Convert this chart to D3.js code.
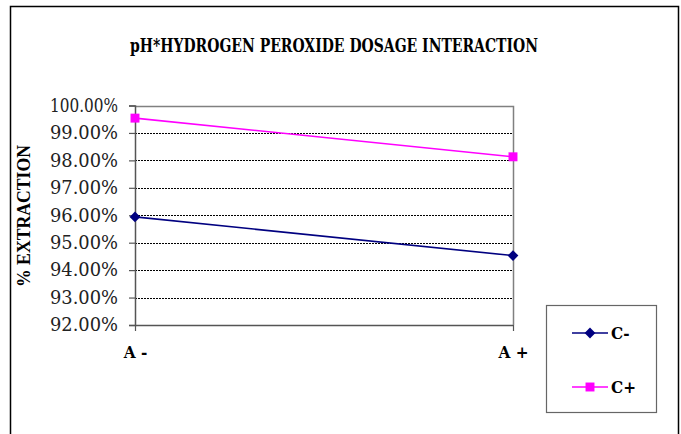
<!DOCTYPE html>
<html>
<head>
<meta charset="utf-8">
<script src="https://cdn.jsdelivr.net/npm/d3@7"></script>
<style>
  html, body { margin: 0; padding: 0; background: #fff; }
  svg { display: block; }
</style>
</head>
<body>
<svg id="chart" width="681" height="434"></svg>
<script>
// Interaction plot data: pH level (A) vs hydrogen peroxide dosage (C)
const categories = ["A -", "A +"];
const seriesNames = ["C-", "C+"];
const cMinus = [95.94, 94.53];
const cPlus = [99.54, 98.13];
const yTicks = [92, 93, 94, 95, 96, 97, 98, 99, 100];
const titleText = "pH*HYDROGEN PEROXIDE DOSAGE INTERACTION";
const yLabel = "% EXTRACTION";

// Diamond drawn as a square turned 45 degrees
const diamond = {
  draw(ctx, size) {
    const r = Math.sqrt(size) / 2 * Math.SQRT2;
    ctx.moveTo(0, -r); ctx.lineTo(r, 0); ctx.lineTo(0, r); ctx.lineTo(-r, 0); ctx.closePath();
  }
};

const series = [
  { name: seriesNames[0], values: cMinus, color: "#000080", symbol: diamond, size: 58 },
  { name: seriesNames[1], values: cPlus, color: "#FF00FF", symbol: d3.symbolSquare, size: 80 }
];

const svg = d3.select("#chart");
const serif = "'DejaVu Serif', serif";

// Outer chart frame (open at the bottom edge of the view)
svg.append("path")
  .attr("d", "M10.5,440 V6.5 H678.5 V440")
  .attr("fill", "none").attr("stroke", "#000").attr("stroke-width", 1.5);

const plot = { left: 135, right: 513, top: 105.5, bottom: 325 };

const x = d3.scalePoint().domain(categories).range([plot.left, plot.right]);
const y = d3.scaleLinear().domain([92, 100]).range([plot.bottom, plot.top]);

// Title
svg.append("text")
  .attr("x", 334).attr("y", 52)
  .attr("text-anchor", "middle")
  .attr("font-family", serif).attr("font-stretch", "condensed")
  .attr("font-weight", "bold").attr("font-size", 18)
  .attr("textLength", 408).attr("lengthAdjust", "spacingAndGlyphs")
  .text(titleText);

// Gridlines (dashed) for interior ticks
svg.append("g").selectAll("line")
  .data(yTicks.filter(t => t > 92 && t < 100))
  .join("line")
  .attr("x1", plot.left).attr("x2", plot.right)
  .attr("y1", d => Math.round(y(d)) + 0.5).attr("y2", d => Math.round(y(d)) + 0.5)
  .attr("stroke", "#000").attr("stroke-width", 1)
  .attr("stroke-dasharray", "2,1");

// Plot-area border: top and right edges in grey
svg.append("path")
  .attr("d", `M${plot.left},${Math.round(plot.top) + 0.5} H${plot.right + 0.5} V${plot.bottom}`)
  .attr("fill", "none").attr("stroke", "#808080").attr("stroke-width", 1.5);

// Y axis
const yAxis = svg.append("g")
  .attr("transform", `translate(${plot.left},0)`)
  .call(d3.axisLeft(y).tickValues(yTicks).tickSize(6).tickPadding(11)
    .tickFormat(d => d3.format(".2f")(d) + "%"));
yAxis.select(".domain").attr("stroke", "#555").attr("stroke-width", 1.5);
yAxis.selectAll(".tick line").attr("stroke", "#555").attr("stroke-width", 1.2);
yAxis.selectAll(".tick text")
  .attr("font-family", serif).attr("font-stretch", "condensed")
  .attr("font-size", 18).attr("fill", "#222")
  .attr("textLength", 68).attr("lengthAdjust", "spacingAndGlyphs");

// X axis
const xAxis = svg.append("g")
  .attr("transform", `translate(0,${plot.bottom})`)
  .call(d3.axisBottom(x).tickSize(6).tickPadding(15));
xAxis.select(".domain").attr("stroke", "#555").attr("stroke-width", 1.5)
  .attr("d", `M${plot.left},0.5H${plot.right}`);
xAxis.selectAll(".tick line").attr("stroke", "#555").attr("stroke-width", 1.2);
xAxis.selectAll(".tick text")
  .attr("font-family", serif).attr("font-stretch", "condensed")
  .attr("font-weight", "bold").attr("font-size", 17).attr("fill", "#000");

// Y axis title
svg.append("text")
  .attr("transform", "translate(30,216) rotate(-90)")
  .attr("text-anchor", "middle")
  .attr("font-family", "'Liberation Serif', serif")
  .attr("font-weight", "bold").attr("font-size", 18)
  .attr("textLength", 142).attr("lengthAdjust", "spacingAndGlyphs")
  .text(yLabel);

// Series lines and markers
const line = d3.line().x((d, i) => x(categories[i])).y(d => y(d));
series.forEach(s => {
  svg.append("path")
    .datum(s.values)
    .attr("d", line)
    .attr("fill", "none").attr("stroke", s.color).attr("stroke-width", 1.6);
  svg.append("g").selectAll("path")
    .data(s.values)
    .join("path")
    .attr("transform", (d, i) => `translate(${x(categories[i])},${y(d)})`)
    .attr("d", d3.symbol().type(s.symbol).size(s.size))
    .attr("fill", s.color);
});

// Legend
const legend = svg.append("g");
legend.append("rect")
  .attr("x", 546.5).attr("y", 305.5).attr("width", 110).attr("height", 107)
  .attr("fill", "#fff").attr("stroke", "#666").attr("stroke-width", 1.2);
const legendY = [333, 387];
series.forEach((s, i) => {
  const g = legend.append("g").attr("transform", `translate(0,${legendY[i]})`);
  g.append("line").attr("x1", 572).attr("x2", 608).attr("y1", 0).attr("y2", 0)
    .attr("stroke", s.color).attr("stroke-width", 1.6);
  g.append("path").attr("transform", "translate(590,0)")
    .attr("d", d3.symbol().type(s.symbol).size(s.size)).attr("fill", s.color);
  g.append("text").attr("x", 611).attr("y", 0).attr("dy", "0.35em")
    .attr("font-family", serif).attr("font-stretch", "condensed")
    .attr("font-weight", "bold").attr("font-size", 17)
    .text(s.name);
});
</script>
</body>
</html>
